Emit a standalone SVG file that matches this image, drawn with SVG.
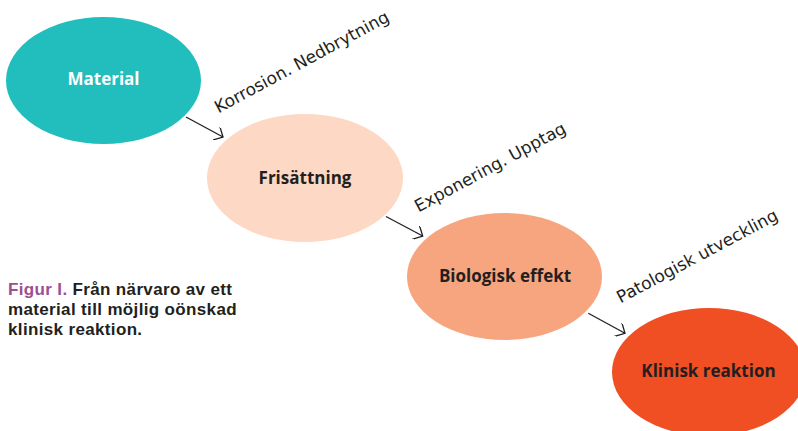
<svg xmlns="http://www.w3.org/2000/svg" width="798" height="431" viewBox="0 0 798 431">
<defs>
<style>
.node-label{font-family:"Open Sans","Liberation Sans",sans-serif;font-weight:700;font-size:17px;text-anchor:middle;fill:#231f20}
.edge-label{font-family:"DejaVu Sans","Liberation Sans",sans-serif;font-size:17px;fill:#231f20}
.edge{stroke:#231f20;stroke-width:1.3;fill:none}
.caption{font-family:"Liberation Sans",Arial,sans-serif;font-weight:700;font-size:17px;letter-spacing:0.35px;fill:#231f20}
</style>
<marker id="arrow" viewBox="0 0 14 14" refX="12" refY="7" markerWidth="14" markerHeight="14" markerUnits="userSpaceOnUse" orient="auto">
<path d="M3.5,-1.5 L12,7 L3.5,15.5" fill="none" stroke="#231f20" stroke-width="1.3"/>
</marker>
</defs>
<rect width="798" height="431" fill="#ffffff"/>
<g id="material">
<ellipse cx="103.5" cy="80.5" rx="97.5" ry="63.5" fill="#22bdbd"/>
<text class="node-label" x="103.5" y="85" style="fill:#ffffff">Material</text>
</g>
<g id="frisattning">
<ellipse cx="305" cy="178" rx="98" ry="64" fill="#fdd8c4"/>
<text class="node-label" x="305" y="184">Frisättning</text>
</g>
<g id="biologisk">
<ellipse cx="504.5" cy="276.5" rx="97.5" ry="63.5" fill="#f6a57e"/>
<text class="node-label" x="505" y="282">Biologisk effekt</text>
</g>
<g id="klinisk">
<ellipse cx="709" cy="372" rx="97" ry="64" fill="#f04e23"/>
<text class="node-label" x="708.5" y="377">Klinisk reaktion</text>
</g>
<g id="connectors">
<line class="edge" x1="186" y1="117" x2="223" y2="137" marker-end="url(#arrow)"/>
<line class="edge" x1="386" y1="216.5" x2="422.7" y2="236" marker-end="url(#arrow)"/>
<line class="edge" x1="588.3" y1="313.3" x2="625" y2="333.3" marker-end="url(#arrow)"/>
<text class="edge-label" transform="translate(218.5,113.5) rotate(-28.4)">Korrosion. Nedbrytning</text>
<text class="edge-label" transform="translate(418.5,212.5) rotate(-28.4)">Exponering. Upptag</text>
<text class="edge-label" transform="translate(620.5,303.5) rotate(-28)">Patologisk utveckling</text>
</g>
<g id="caption">
<text class="caption" x="8" y="295"><tspan fill="#9c4f96">Figur I.</tspan> Från närvaro av ett</text>
<text class="caption" x="8" y="315">material till möjlig oönskad</text>
<text class="caption" x="8" y="335">klinisk reaktion.</text>
</g>
</svg>
